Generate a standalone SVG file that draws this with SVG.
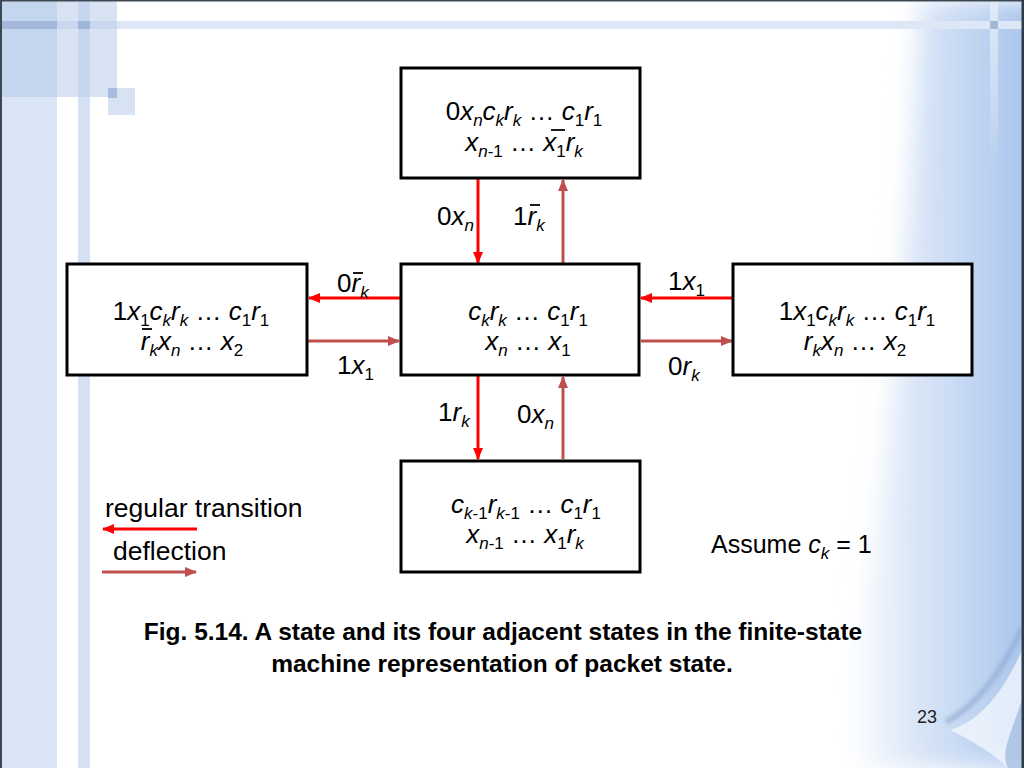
<svg xmlns="http://www.w3.org/2000/svg" width="1024" height="768" viewBox="0 0 1024 768">
<style>
.m{font-family:"Liberation Sans",Arial,sans-serif;font-size:26px;fill:#000}
.i{font-style:italic}
.s{font-size:17px}
.cap{font-family:"Liberation Sans",Arial,sans-serif;font-size:24.5px;font-weight:bold;fill:#000}
.box{fill:#fff;stroke:#000;stroke-width:3}
.reg{stroke:#ff0000;stroke-width:3;fill:none;marker-end:url(#hr)}
.def{stroke:#c0504d;stroke-width:3;fill:none;marker-end:url(#hd)}
.bar{stroke:#000;stroke-width:1.8}
</style>
<defs>
<marker id="hr" markerUnits="userSpaceOnUse" markerWidth="12" markerHeight="10" refX="11" refY="5" orient="auto"><path d="M0,0 L12,5 L0,10 Z" fill="#ff0000"/></marker>
<marker id="hd" markerUnits="userSpaceOnUse" markerWidth="12" markerHeight="10" refX="11" refY="5" orient="auto"><path d="M0,0 L12,5 L0,10 Z" fill="#c0504d"/></marker>
<linearGradient id="rg" gradientUnits="userSpaceOnUse" x1="850" y1="0" x2="1024" y2="0">
<stop offset="0" stop-color="#ffffff"/>
<stop offset="0.3" stop-color="#e0eaf8"/>
<stop offset="0.7" stop-color="#c2d6f2"/>
<stop offset="1" stop-color="#aac5ec"/>
</linearGradient>
<linearGradient id="vs" x1="0" y1="0" x2="0" y2="1">
<stop offset="0" stop-color="#e3ecf8" stop-opacity="0.95"/>
<stop offset="1" stop-color="#e3ecf8" stop-opacity="0"/>
</linearGradient>
<filter id="blur" x="-0.3" y="-0.1" width="1.6" height="1.2"><feGaussianBlur stdDeviation="12"/></filter>
<filter id="blur2"><feGaussianBlur stdDeviation="2"/></filter>
</defs>

<g id="background">
<rect x="0" y="0" width="1024" height="768" fill="#ffffff"/>
<path d="M920,0 C905,300 885,550 830,768 L1060,768 L1060,0 Z" fill="url(#rg)" filter="url(#blur)"/>
<rect x="0" y="0" width="57" height="768" fill="#dae6f5"/>
<rect x="78" y="0" width="12" height="768" fill="#d4e1f3"/>
<rect x="0" y="0" width="57" height="97" fill="#c4d6ee"/>
<rect x="57" y="0" width="60" height="97" fill="#d7e3f3"/>
<rect x="78" y="0" width="12" height="97" fill="#c5d6ee"/>
<rect x="0" y="21" width="1024" height="8" fill="#dde7f5"/>
<rect x="57" y="21" width="60" height="8" fill="#c9d8ee"/>
<rect x="0" y="21" width="57" height="8" fill="#a3b8dc"/>
<rect x="78" y="21" width="12" height="8" fill="#9eb4da"/>
<rect x="108" y="88" width="27" height="27" fill="#d7e3f3"/>
<rect x="108" y="88" width="9" height="10" fill="#a6bbde"/>
<rect x="990" y="0" width="8" height="170" fill="url(#vs)"/>
<rect x="990" y="21" width="8" height="8" fill="#a2b6d8"/>
<path d="M1022,628 C1002,672 978,705 946,722" fill="none" stroke="#8da7cf" stroke-width="5" opacity="0.7" filter="url(#blur2)"/>
<path d="M1022,650 C1002,695 978,722 950,730 C975,742 995,755 1008,768 L1022,768 Z" fill="#f4f8fd" opacity="0.75"/>
<path d="M1022,700 C1010,735 1000,755 1008,768 L1022,768 Z" fill="#8fadd8" opacity="0.6"/>
<rect x="0" y="0" width="1024" height="1.5" fill="#3e4852"/>
<rect x="0" y="0" width="2" height="768" fill="#3e4852"/>
<rect x="1021.5" y="0" width="2.5" height="768" fill="#2f3b4a"/>
</g>

<g id="connectors">
<path class="reg" d="M478,179 L478,263"/>
<path class="def" d="M563,263 L563,180"/>
<path class="reg" d="M400,298 L309,298"/>
<path class="def" d="M308,341 L399,341"/>
<path class="reg" d="M733,298 L641,298"/>
<path class="def" d="M641,341 L732,341"/>
<path class="reg" d="M478,376 L478,459"/>
<path class="def" d="M563,459 L563,377"/>
<text class="m" x="437" y="225">0<tspan class="i">x</tspan><tspan class="s i" dy="6">n</tspan></text>
<text class="m" x="513" y="225">1<tspan class="i">r</tspan><tspan class="s i" dy="6">k</tspan></text>
<line class="bar" x1="530" y1="205" x2="540" y2="205"/>
<text class="m" x="337" y="292">0<tspan class="i">r</tspan><tspan class="s i" dy="6">k</tspan></text>
<line class="bar" x1="353" y1="273" x2="363" y2="273"/>
<text class="m" x="337" y="374">1<tspan class="i">x</tspan><tspan class="s" dy="6">1</tspan></text>
<text class="m" x="668" y="290">1<tspan class="i">x</tspan><tspan class="s" dy="6">1</tspan></text>
<text class="m" x="668" y="375">0<tspan class="i">r</tspan><tspan class="s i" dy="6">k</tspan></text>
<text class="m" x="438" y="421">1<tspan class="i">r</tspan><tspan class="s i" dy="6">k</tspan></text>
<text class="m" x="517" y="423">0<tspan class="i">x</tspan><tspan class="s i" dy="6">n</tspan></text>
</g>

<g id="node-top">
<rect class="box" x="401" y="68" width="239" height="110"/>
<text class="m" x="524" y="120" text-anchor="middle">0<tspan class="i">x</tspan><tspan class="s i" dy="6">n</tspan><tspan class="i" dy="-6">c</tspan><tspan class="s i" dy="6">k</tspan><tspan class="i" dy="-6">r</tspan><tspan class="s i" dy="6">k</tspan><tspan dy="-6"> … </tspan><tspan class="i">c</tspan><tspan class="s" dy="6">1</tspan><tspan class="i" dy="-6">r</tspan><tspan class="s" dy="6">1</tspan></text>
<text class="m" x="524" y="151" text-anchor="middle"><tspan class="i">x</tspan><tspan class="s" dy="6"><tspan class="i">n</tspan>-1</tspan><tspan dy="-6"> … </tspan><tspan class="i">x</tspan><tspan class="s" dy="6">1</tspan><tspan class="i" dy="-6">r</tspan><tspan class="s i" dy="6">k</tspan></text>
<line class="bar" x1="551" y1="130" x2="565" y2="130"/>
</g>

<g id="node-center">
<rect class="box" x="401" y="264" width="238" height="111"/>
<text class="m" x="528" y="320" text-anchor="middle"><tspan class="i">c</tspan><tspan class="s i" dy="6">k</tspan><tspan class="i" dy="-6">r</tspan><tspan class="s i" dy="6">k</tspan><tspan dy="-6"> … </tspan><tspan class="i">c</tspan><tspan class="s" dy="6">1</tspan><tspan class="i" dy="-6">r</tspan><tspan class="s" dy="6">1</tspan></text>
<text class="m" x="528" y="350" text-anchor="middle"><tspan class="i">x</tspan><tspan class="s i" dy="6">n</tspan><tspan dy="-6"> … </tspan><tspan class="i">x</tspan><tspan class="s" dy="6">1</tspan></text>
</g>

<g id="node-left">
<rect class="box" x="67" y="264" width="240" height="111"/>
<text class="m" x="191" y="320" text-anchor="middle">1<tspan class="i">x</tspan><tspan class="s" dy="6">1</tspan><tspan class="i" dy="-6">c</tspan><tspan class="s i" dy="6">k</tspan><tspan class="i" dy="-6">r</tspan><tspan class="s i" dy="6">k</tspan><tspan dy="-6"> … </tspan><tspan class="i">c</tspan><tspan class="s" dy="6">1</tspan><tspan class="i" dy="-6">r</tspan><tspan class="s" dy="6">1</tspan></text>
<text class="m" x="192" y="350" text-anchor="middle"><tspan class="i">r</tspan><tspan class="s i" dy="6">k</tspan><tspan class="i" dy="-6">x</tspan><tspan class="s i" dy="6">n</tspan><tspan dy="-6"> … </tspan><tspan class="i">x</tspan><tspan class="s" dy="6">2</tspan></text>
<line class="bar" x1="142" y1="329" x2="152" y2="329"/>
</g>

<g id="node-right">
<rect class="box" x="733" y="264" width="239" height="111"/>
<text class="m" x="857" y="320" text-anchor="middle">1<tspan class="i">x</tspan><tspan class="s" dy="6">1</tspan><tspan class="i" dy="-6">c</tspan><tspan class="s i" dy="6">k</tspan><tspan class="i" dy="-6">r</tspan><tspan class="s i" dy="6">k</tspan><tspan dy="-6"> … </tspan><tspan class="i">c</tspan><tspan class="s" dy="6">1</tspan><tspan class="i" dy="-6">r</tspan><tspan class="s" dy="6">1</tspan></text>
<text class="m" x="855" y="350" text-anchor="middle"><tspan class="i">r</tspan><tspan class="s i" dy="6">k</tspan><tspan class="i" dy="-6">x</tspan><tspan class="s i" dy="6">n</tspan><tspan dy="-6"> … </tspan><tspan class="i">x</tspan><tspan class="s" dy="6">2</tspan></text>
</g>

<g id="node-bottom">
<rect class="box" x="401" y="461" width="239" height="111"/>
<text class="m" x="526" y="513" text-anchor="middle"><tspan class="i">c</tspan><tspan class="s" dy="6"><tspan class="i">k</tspan>-1</tspan><tspan class="i" dy="-6">r</tspan><tspan class="s" dy="6"><tspan class="i">k</tspan>-1</tspan><tspan dy="-6"> … </tspan><tspan class="i">c</tspan><tspan class="s" dy="6">1</tspan><tspan class="i" dy="-6">r</tspan><tspan class="s" dy="6">1</tspan></text>
<text class="m" x="525" y="543" text-anchor="middle"><tspan class="i">x</tspan><tspan class="s" dy="6"><tspan class="i">n</tspan>-1</tspan><tspan dy="-6"> … </tspan><tspan class="i">x</tspan><tspan class="s" dy="6">1</tspan><tspan class="i" dy="-6">r</tspan><tspan class="s i" dy="6">k</tspan></text>
</g>

<g id="legend">
<text class="m" x="105" y="517" style="font-size:26.5px">regular transition</text>
<path class="reg" d="M197,529 L103,529"/>
<text class="m" x="113" y="560" style="font-size:26.5px">deflection</text>
<path class="def" d="M102,572 L196,572"/>
</g>

<g id="notes">
<text class="m" x="711" y="553" style="font-size:25px">Assume <tspan class="i">c</tspan><tspan class="s i" dy="6">k</tspan><tspan dy="-6"> = 1</tspan></text>
<text class="cap" x="503" y="640" text-anchor="middle">Fig. 5.14. A state and its four adjacent states in the finite-state</text>
<text class="cap" x="502" y="672" text-anchor="middle">machine representation of packet state.</text>
<text class="m" x="917" y="723" style="font-size:18px;fill:#222">23</text>
</g>
</svg>
